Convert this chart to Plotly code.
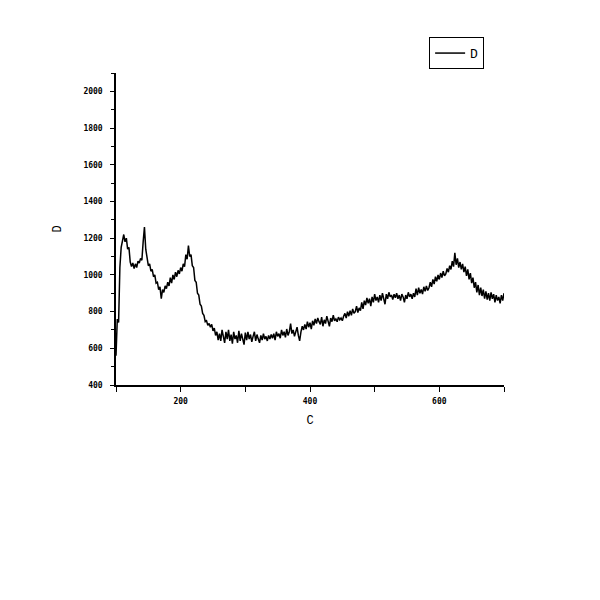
import plotly.graph_objects as go

# x values every 2 units from 100 to 700
x_vals = list(range(100, 702, 2))

d_part1 = [560, 760, 740, 1040, 1150, 1195, 1220, 1180, 1200, 1140,
           1150, 1070, 1045, 1065, 1035, 1060, 1040, 1075, 1065, 1090,
           1080, 1180, 1260, 1140, 1090, 1050, 1060, 1020, 1030, 990,
           1000, 955, 960, 920, 935, 870, 920, 905, 940, 925,
           960, 940, 985, 955, 1000, 975, 1015, 990, 1025, 1005,
           1040, 1020, 1060, 1045, 1110, 1085, 1160, 1100, 1110, 1050,
           1040, 970, 960, 900, 890, 840, 830, 790, 780, 745,
           750, 725, 735, 715, 730, 695, 710, 670]
d_part2 = [690, 645, 680, 640, 700, 655, 630, 690, 650, 700,
           640, 675, 625, 690, 650, 670, 630, 695, 640, 680,
           655, 620, 685, 645, 690, 650, 675, 635, 665, 690,
           640, 675, 650, 630, 670, 645, 680, 650]
d_part3 = [665, 640, 670, 650, 675, 655, 680, 645, 690, 665,
           680, 655, 700, 670, 690, 660, 705, 670, 690, 735,
           680, 700, 665, 690, 715, 670, 640, 690, 720, 700,
           730, 705, 745, 715, 740, 705, 750, 725, 760, 735,
           765, 745, 730, 770, 720, 755, 735, 775, 740, 720,
           765, 745, 780, 750, 760, 745, 770, 755, 765, 750,
           775, 790, 765, 800, 775, 805, 780, 815, 790, 800,
           830, 795, 820, 805, 850, 815, 860, 835, 875, 845,
           870, 830, 880, 850, 895, 860, 880, 850, 890, 860,
           900, 870, 840, 895, 870, 905, 880, 890, 865, 895,
           875, 900, 870, 890, 860, 895, 880, 850, 890, 870,
           905, 880, 895, 870, 900, 880, 925, 890, 930, 900,
           920, 895, 935, 910, 940, 915, 930, 960, 935, 975,
           950, 990, 965, 1000, 975, 1010, 985, 1020, 995, 1005,
           1035, 1015, 1050, 1030, 1075, 1045, 1120, 1055, 1090, 1040,
           1070, 1030, 1060, 1015, 1045, 995, 1030, 975, 1010, 955,
           985, 930, 960, 905, 945, 890, 930, 885, 920, 870,
           910, 865, 900, 860, 905, 870, 895, 850, 890, 860,
           880, 845, 890, 860, 900]
d_vals = d_part1 + d_part2 + d_part3

fig = go.Figure()
fig.add_trace(go.Scatter(x=x_vals, y=d_vals, mode="lines", name="D",
                         line=dict(color="black", width=1.5)))

tick_font = dict(family="DejaVu Sans Mono", size=8, color="black", weight="bold")
title_font = dict(family="Liberation Mono", size=12, color="black")

fig.update_xaxes(range=[100, 700], tick0=200, dtick=200, ticks="outside", ticklen=5,
                 tickwidth=1, tickcolor="black", showline=True, linecolor="black",
                 linewidth=1.5, showgrid=False, zeroline=False, tickfont=tick_font,
                 ticklabelstandoff=3,
                 minor=dict(dtick=100, tick0=100, ticks="outside", ticklen=5,
                            tickcolor="black", showgrid=False),
                 title=dict(text="C", font=title_font, standoff=10))
fig.update_yaxes(range=[400, 2100], tick0=400, dtick=200, ticks="outside", ticklen=4,
                 tickwidth=1, tickcolor="black", showline=True, linecolor="black",
                 linewidth=1.5, showgrid=False, zeroline=False, tickfont=tick_font,
                 ticklabelstandoff=6,
                 minor=dict(dtick=100, tick0=400, ticks="outside", ticklen=3,
                            tickcolor="black", showgrid=False),
                 title=dict(text="D", font=title_font, standoff=19))

fig.update_layout(
    width=600, height=600,
    margin=dict(l=108, r=104, t=65, b=223, autoexpand=False),
    plot_bgcolor="white", paper_bgcolor="white",
    showlegend=True,
    legend=dict(x=0.807, y=1.115, xanchor="left", yanchor="top",
                bordercolor="black", borderwidth=1, bgcolor="white",
                font=dict(family="Liberation Mono", size=13, color="black"),
                itemwidth=30, tracegroupgap=0),
)

fig.write_html("out.html")
